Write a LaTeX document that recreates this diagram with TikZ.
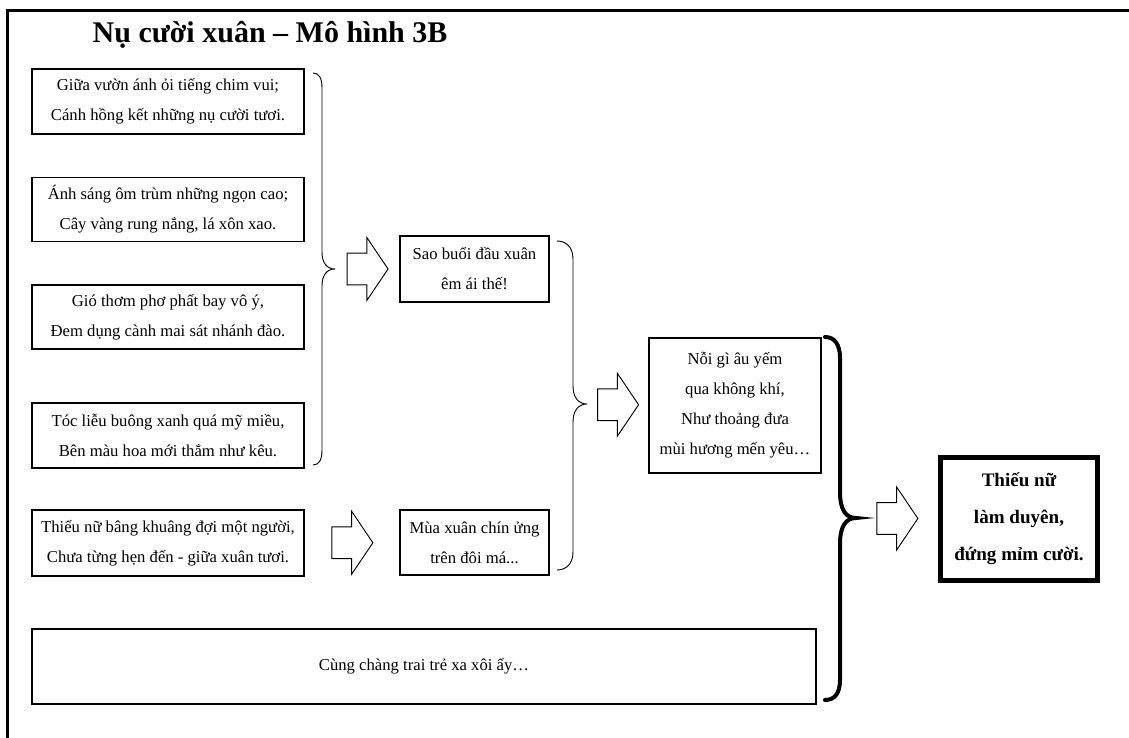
\documentclass[tikz,border=0pt]{standalone}
\usepackage{fontspec}
\setmainfont{Liberation Serif}
\usetikzlibrary{shapes.arrows}
\usetikzlibrary{calc}

\tikzset{
	verse/.style={draw, line width=0.9pt, align=center, inner sep=0pt,
		font=\fontsize{12.5}{22.5}\selectfont},
	hollow/.style={draw, single arrow, line width=0.7pt, inner xsep=0pt, inner ysep=11.6pt,
		minimum height=30.75pt, minimum width=46.5pt, xshift=-3.75pt,
		single arrow head extend=11.6pt, single arrow tip angle=112},
	thinbrace/.style={line width=0.7pt},
	thickbrace/.style={line width=3pt, line cap=round}
}

\begin{document}
\begin{tikzpicture}[x=0.75pt,y=-0.75pt]
	\useasboundingbox (0,0) rectangle (1129,738);
	\draw[line width=2.25pt] (7.5,738) -- (7.5,11) -- (1129,11);

	\node[anchor=base west, font=\fontsize{22.5}{27}\selectfont\bfseries] (title) at (88,43) {Nụ cười xuân – Mô hình 3B};

	\node[verse, minimum width=204pt, minimum height=48.75pt] (v1) at (168,101.5) {Giữa vườn ánh ỏi tiếng chim vui;\\Cánh hồng kết những nụ cười tươi.};
	\node[verse, minimum width=204pt, minimum height=48pt] (v2) at (168,209.5) {Ánh sáng ôm trùm những ngọn cao;\\Cây vàng rung nắng, lá xôn xao.};
	\node[verse, minimum width=204pt, minimum height=48pt] (v3) at (168,317) {Gió thơm phơ phất bay vô ý,\\Đem dụng cành mai sát nhánh đào.};
	\node[verse, minimum width=204pt, minimum height=48.75pt] (v4) at (168,435.5) {Tóc liễu buông xanh quá mỹ miều,\\Bên màu hoa mới thắm như kêu.};
	\node[verse, minimum width=204pt, minimum height=49.5pt] (v5) at (168,543) {Thiếu nữ bâng khuâng đợi một người,\\Chưa từng hẹn đến - giữa xuân tươi.};

	\node[verse, minimum width=111.75pt, minimum height=49.5pt] (sao) at (474.5,269) {Sao buổi đầu xuân\\êm ái thế!};
	\node[verse, minimum width=111.75pt, minimum height=48.75pt] (mua) at (474.5,542.5) {Mùa xuân chín ửng\\trên đôi má...};
	\node[verse, minimum width=129pt, minimum height=101.25pt] (noi) at (735,405.5) {Nỗi gì âu yếm\\qua không khí,\\Như thoảng đưa\\mùi hương mến yêu…};
	\node[verse, minimum width=588pt, minimum height=56.25pt] (cung) at (424,666.5) {Cùng chàng trai trẻ xa xôi ấy…};
	\node[verse, line width=3.75pt, minimum width=117.75pt, minimum height=92.25pt,
		font=\fontsize{14.3}{27.75}\selectfont\bfseries] (thieunu) at (1019,519) {Thiếu nữ\\làm duyên,\\đứng mỉm cười.};

	\coordinate (tip1) at (335,269);
	\coordinate (tip2) at (587,404);
	\coordinate (tip3) at (856,518);

	\draw[thinbrace] (313,73) .. controls (319,73) and (322,78) .. (322,88) -- (322,252) .. controls (322,263) and (327,269) .. (tip1)
		.. controls (327,269) and (322,275) .. (322,286) -- (322,450) .. controls (322,460) and (319,465) .. (313,465);
	\draw[thinbrace] (557,241) .. controls (566,241) and (573,247) .. (573,259) -- (573,386) .. controls (573,398) and (579,404) .. (tip2)
		.. controls (579,404) and (573,410) .. (573,422) -- (573,552) .. controls (573,564) and (566,570) .. (557,570);
	\draw[thickbrace] (825,337) .. controls (835,337) and (840,345) .. (840,358) -- (840,492) .. controls (840,510) and (846,518) .. (tip3)
		.. controls (846,518) and (840,526) .. (840,544) -- (840,680) .. controls (840,693) and (835,700) .. (825,700);

	\node[hollow] (a1) at ($(tip1)!0.5!(sao.west)$) {};
	\node[hollow] (a2) at ($(v5.east)!0.5!(mua.west)$) {};
	\node[hollow] (a3) at ($(tip2)!0.5!(noi.west)$) {};
	\node[hollow] (a4) at ($(tip3)!0.5!(thieunu.west)$) {};
\end{tikzpicture}
\end{document}
